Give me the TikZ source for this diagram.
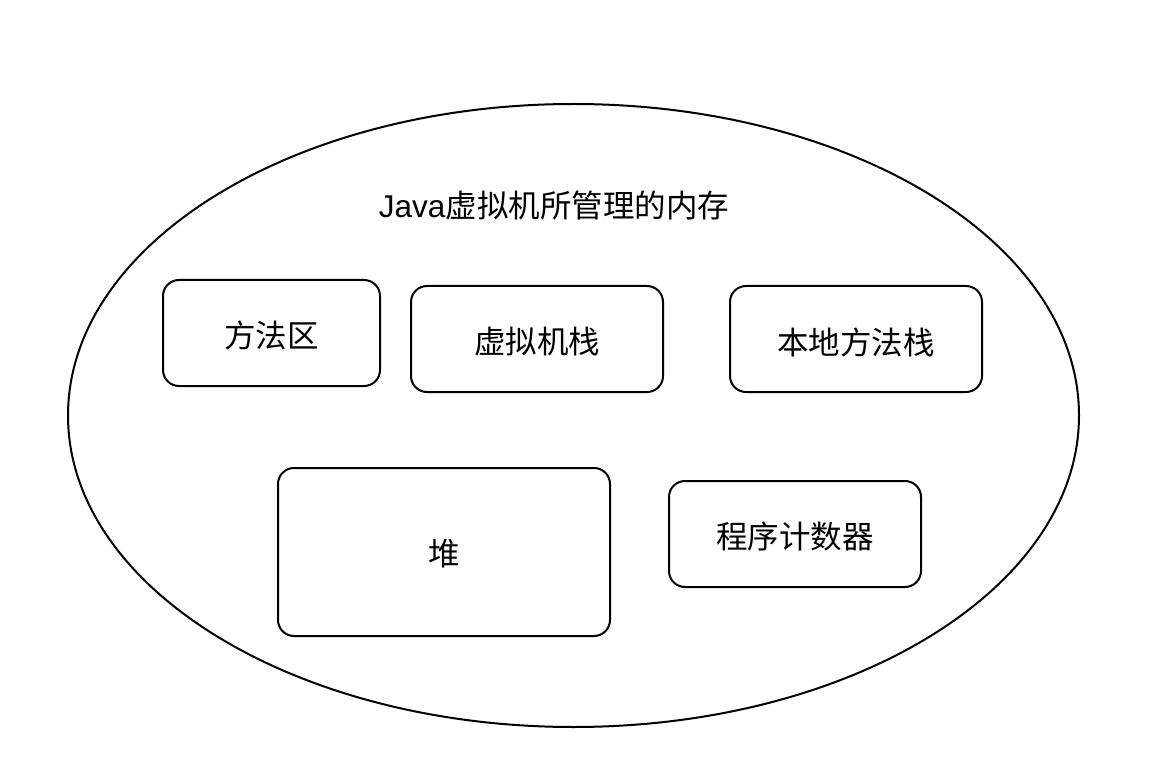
\documentclass[tikz,border=0pt]{standalone}
\usepackage{fontspec}
\setmainfont{Noto Sans CJK SC}
\newfontfamily\latinsans{Liberation Sans}
\begin{document}
\begin{tikzpicture}[x=1pt,y=-1pt,
  region/.style={draw=black, line width=2pt, rounded corners=16pt, fill=white},
  lbl/.style={font=\fontsize{31.5}{36}\selectfont, inner sep=0pt}]
\useasboundingbox (0,0) rectangle (1152,778);
% outer memory area
\draw[line width=2pt] (573.5,415.5) ellipse [x radius=505.5, y radius=311.5];
\node[lbl] (title) at (554,205) {{\latinsans Java}虚拟机所管理的内存};
% memory regions
\draw[region] (163,280) rectangle (380,386);
\node[lbl] (ma) at (271.5,335) {方法区};
\draw[region] (411,286) rectangle (663,392);
\node[lbl] (vs) at (537,342) {虚拟机栈};
\draw[region] (730,286) rectangle (982,392);
\node[lbl] (ns) at (856,342) {本地方法栈};
\draw[region] (278,468) rectangle (610,636);
\node[lbl] (heap) at (444,554) {堆};
\draw[region] (669,481) rectangle (921,587);
\node[lbl] (pc) at (795,536) {程序计数器};
\end{tikzpicture}
\end{document}
